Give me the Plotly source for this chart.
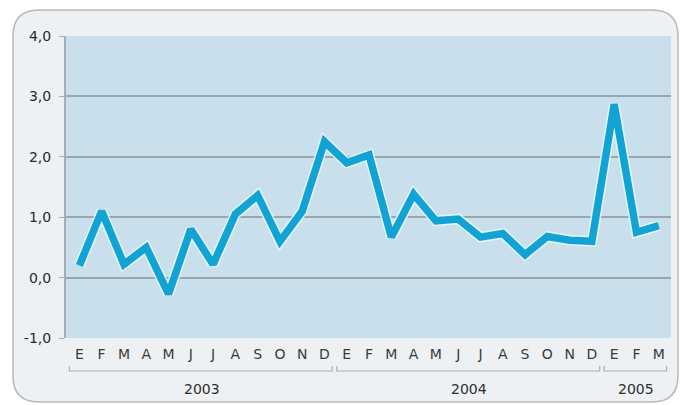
import plotly.graph_objects as go

# ---- data ----
months = ["E", "F", "M", "A", "M", "J", "J", "A", "S", "O", "N", "D",
          "E", "F", "M", "A", "M", "J", "J", "A", "S", "O", "N", "D",
          "E", "F", "M"]
years = ["2003"] * 12 + ["2004"] * 12 + ["2005"] * 3
values = [0.20, 1.10, 0.22, 0.50, -0.27, 0.80, 0.22, 1.05, 1.36, 0.60, 1.10, 2.25,
          1.90, 2.03, 0.67, 1.38, 0.94, 0.97, 0.67, 0.73, 0.38, 0.68, 0.62, 0.60,
          2.87, 0.75, 0.86]
y_ticks = [-1, 0, 1, 2, 3, 4]
y_tick_text = [f"{v:.1f}".replace(".", ",") for v in y_ticks]

W, H = 681, 405
L, R, T, B = 66, 10, 36, 67
pw, ph = W - L - R, H - T - B

def px_x(px):
    return (px - L) / pw

def px_y(py):
    return (H - B - py) / ph

x_idx = list(range(len(values)))

fig = go.Figure()
fig.add_trace(go.Scatter(x=x_idx, y=values, mode="lines",
                         line=dict(color="rgba(235,248,252,0.85)", width=10.5),
                         hoverinfo="skip", showlegend=False))
fig.add_trace(go.Scatter(x=x_idx, y=values, mode="lines",
                         line=dict(color="#12a3d5", width=7.5),
                         showlegend=False))

# rounded card
x0, x1 = px_x(13), px_x(678)
y0, y1 = px_y(402), px_y(10)
rx, ry = 26 / pw, 26 / ph
path = (f"M {x0+rx},{y1} L {x1-rx},{y1} Q {x1},{y1} {x1},{y1-ry} "
        f"L {x1},{y0+ry} Q {x1},{y0} {x1-rx},{y0} L {x0+rx},{y0} "
        f"Q {x0},{y0} {x0},{y0+ry} L {x0},{y1-ry} Q {x0},{y1} {x0+rx},{y1} Z")
shapes = [dict(type="path", path=path, xref="paper", yref="paper",
               fillcolor="#eef1f3", line=dict(color="#b4b9bd", width=1.5),
               layer="below"),
          dict(type="rect", xref="paper", yref="paper", x0=0, x1=1, y0=0, y1=1,
               fillcolor="#c9e0ec", line=dict(width=0), layer="below")]

# year brackets and labels
annotations = []
groups = []
for i, yr in enumerate(years):
    if not groups or groups[-1][0] != yr:
        groups.append([yr, i, i])
    else:
        groups[-1][2] = i
by = px_y(371)
bt = px_y(366)
for yr, s, e in groups:
    xs, xe = s - 0.45, e + 0.35
    shapes.append(dict(type="path", xref="x", yref="paper",
                       path=f"M {xs},{bt} L {xs},{by} L {xe},{by} L {xe},{bt}",
                       line=dict(color="#a9b0b5", width=1.2)))
    annotations.append(dict(x=(s + e) / 2, y=px_y(389), xref="x", yref="paper",
                            text=yr, showarrow=False, yanchor="middle",
                            font=dict(family="DejaVu Sans", size=14, color="#2e2e2e")))

fig.update_layout(
    width=W, height=H,
    margin=dict(l=L, r=R, t=T, b=B),
    paper_bgcolor="white",
    plot_bgcolor="#c9e0ec",
    shapes=shapes,
    annotations=annotations,
    xaxis=dict(range=[-0.6, len(values) - 1 + 0.55],
               tickmode="array", tickvals=x_idx, ticktext=months,
               showgrid=False, zeroline=False, showline=False, ticks="",
               ticklabelstandoff=6,
               tickfont=dict(family="DejaVu Sans", size=14, color="#3a3a3a")),
    yaxis=dict(range=[-1, 4], tickmode="array", tickvals=y_ticks, ticktext=y_tick_text,
               showgrid=True, gridcolor="#98a6ae", gridwidth=1.5,
               zeroline=False, showline=True, linecolor="#a4adb3", linewidth=2,
               ticks="outside", ticklen=5, tickcolor="#a4adb3",
               ticklabelstandoff=5,
               tickfont=dict(family="DejaVu Sans", size=14, color="#2a2a2a")),
)

fig.write_html("out.html", config={"displayModeBar": False},
               post_script="document.body.style.margin='0px';")
